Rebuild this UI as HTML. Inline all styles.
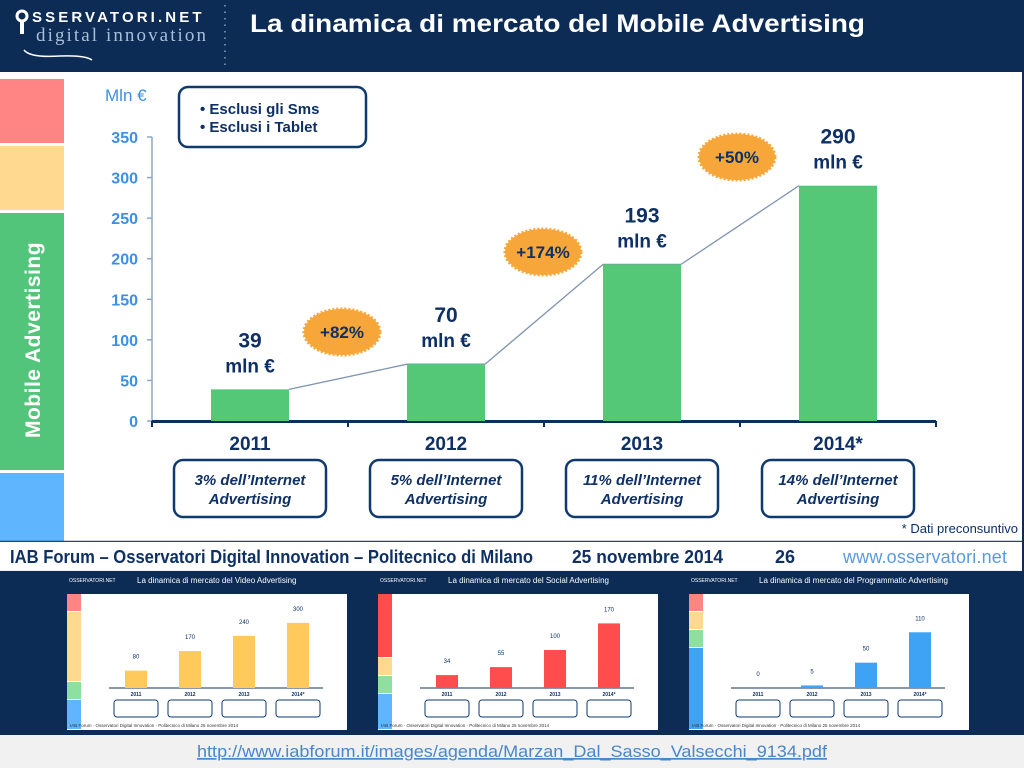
<!DOCTYPE html>
<html><head><meta charset="utf-8"><style>
html,body{margin:0;padding:0;width:1024px;height:768px;overflow:hidden;background:#f1f1f1;font-family:"Liberation Sans",sans-serif}
#wrap{position:relative;width:1024px;height:768px}
</style></head><body><div id="wrap">
<svg id="svg" width="1024" height="768" viewBox="0 0 1024 768" xmlns="http://www.w3.org/2000/svg">
<!-- header -->
<rect x="0" y="0" width="1024" height="72" fill="#0c2b55"/>
<g>
<circle cx="22" cy="16" r="5" fill="none" stroke="#fff" stroke-width="3"/>
<rect x="20" y="22" width="4" height="12" fill="#fff"/>
<text x="32" y="22" fill="#fff" font-size="15" font-weight="bold" letter-spacing="2.5" textLength="172" font-family="Liberation Sans,sans-serif">SSERVATORI.NET</text>
<text x="36" y="41" fill="#a9bfd8" font-size="19" font-family="Liberation Serif,serif" textLength="170">digital innovation</text>
<path d="M24 50 Q30 58 60 56 Q85 55 92 60" stroke="#fff" stroke-width="1.5" fill="none"/>
</g>
<line x1="225" y1="5" x2="225" y2="65" stroke="#8aa2c0" stroke-width="1.5" stroke-dasharray="1.5,5"/>
<text x="250" y="32" fill="#fff" font-size="25" font-weight="bold" textLength="615" lengthAdjust="spacingAndGlyphs">La dinamica di mercato del Mobile Advertising</text>
<!-- body -->
<rect x="0" y="72" width="1022" height="469" fill="#fff"/>
<rect x="0" y="79" width="64" height="64" fill="#ff8585"/>
<rect x="0" y="146" width="64" height="64" fill="#ffd98f"/>
<rect x="0" y="213" width="64" height="257" fill="#52c57a"/>
<rect x="0" y="473" width="64" height="68" fill="#60b5ff"/>
<text transform="translate(40,340) rotate(-90)" text-anchor="middle" fill="#fff" font-size="21" font-weight="bold" letter-spacing="0.5">Mobile Advertising</text>
<text x="105" y="101" fill="#3d8ee6" font-size="17">Mln €</text>
<g>
<rect x="179" y="87" width="187" height="60" rx="9" fill="#fff" stroke="#0e3a6e" stroke-width="2.5"/>
<text x="200" y="114" fill="#0e3064" font-size="15" font-weight="bold">•   Esclusi gli Sms</text>
<text x="200" y="132" fill="#0e3064" font-size="15" font-weight="bold">•   Esclusi i Tablet</text>
</g>
<g id="chart"></g>
<text x="1018" y="533" text-anchor="end" fill="#0e3064" font-size="13">* Dati preconsuntivo</text>
<line x1="0" y1="541.5" x2="1022" y2="541.5" stroke="#1b4a80" stroke-width="1.5"/>
<rect x="1022" y="72" width="2" height="500" fill="#0c2b55"/>
<rect x="0" y="542" width="1022" height="28" fill="#fff"/>
<g font-size="18" font-weight="bold" fill="#0e3064">
<text x="10" y="563" textLength="523" lengthAdjust="spacingAndGlyphs">IAB Forum – Osservatori Digital Innovation – Politecnico di Milano</text>
<text x="572" y="563" textLength="151" lengthAdjust="spacingAndGlyphs">25 novembre 2014</text>
<text x="775" y="563">26</text>
<text x="843" y="563" fill="#5a9ade" font-weight="normal" textLength="164">www.osservatori.net</text>
</g>
<rect x="0" y="571" width="1024" height="164" fill="#0c2b55"/>
<g id="thumbs"></g>
<text x="197" y="757" fill="#4a86c8" font-size="17" text-decoration="underline" textLength="630" lengthAdjust="spacingAndGlyphs">http://www.iabforum.it/images/agenda/Marzan_Dal_Sasso_Valsecchi_9134.pdf</text>
</svg>
</div>
<script>
const categories = ["2011","2012","2013","2014*"];
const values = [39,70,193,290];
const growthLabels = ["+82%","+174%","+50%"];
const shareLabels = ["3% dell\u2019Internet","5% dell\u2019Internet","11% dell\u2019Internet","14% dell\u2019Internet"];
const yTicks = [0,50,100,150,200,250,300,350];

const NS="http://www.w3.org/2000/svg";
function mk(tag,attrs,parent,txt){const e=document.createElementNS(NS,tag);for(const k in attrs)e.setAttribute(k,attrs[k]);if(txt!==undefined)e.textContent=txt;parent.appendChild(e);return e;}
const g=document.getElementById('chart');
const x0=152,bandW=196,y0=421,yTop=137,yMax=350,barW=78;
const yS=v=>y0-(v/yMax)*(y0-yTop);
const xC=i=>x0+bandW*i+bandW/2;
mk('line',{x1:x0,y1:yTop,x2:x0,y2:y0,stroke:'#8fa6c8','stroke-width':1.5},g);
yTicks.forEach(t=>{
  mk('line',{x1:x0-5,y1:yS(t),x2:x0,y2:yS(t),stroke:'#8fa6c8','stroke-width':1.5},g);
  const tx=mk('text',{x:138,y:yS(t)+6,'text-anchor':'end',fill:'#3d8ee6','font-size':16,'font-weight':'bold'},g,t);
  
  
});
mk('line',{x1:x0,y1:y0+0.5,x2:x0+bandW*categories.length,y2:y0+0.5,stroke:'#0e2f5c','stroke-width':3},g);
for(let i=0;i<=categories.length;i++)mk('line',{x1:x0+bandW*i,y1:y0,x2:x0+bandW*i,y2:y0+6,stroke:'#0e2f5c','stroke-width':2},g);
let pts=[];
values.forEach((v,i)=>{pts.push((xC(i)-barW/2)+','+yS(v));pts.push((xC(i)+barW/2)+','+yS(v));});
pts=pts.slice(1,-1);
const pl=mk('polyline',{points:pts.join(' '),fill:'none',stroke:'#7f93b3','stroke-width':1.3},g);


values.forEach((v,i)=>{
  const r=mk('rect',{x:xC(i)-barW/2,y:yS(v),width:barW,height:y0-yS(v),fill:'#55c878'},g);
  
  
  const t1=mk('text',{x:xC(i),y:yS(v)-42,'text-anchor':'middle',fill:'#0e3064','font-size':21,'font-weight':'bold'},g,v);
  
  
  mk('text',{x:xC(i),y:yS(v)-17,'text-anchor':'middle',fill:'#0e3064','font-size':19,'font-weight':'bold'},g,'mln €');
  const c=mk('text',{x:xC(i),y:y0+29,'text-anchor':'middle',fill:'#0e3064','font-size':19,'font-weight':'bold'},g,categories[i]);
  
  
  const bx=mk('rect',{x:xC(i)-76,y:460,width:152,height:57,rx:9,fill:'#fff',stroke:'#0e3a6e','stroke-width':2.5},g);
  
  
  mk('text',{x:xC(i),y:485,'text-anchor':'middle',fill:'#0e3064','font-size':15,'font-weight':'bold','font-style':'italic'},g,shareLabels[i]);
  mk('text',{x:xC(i),y:504,'text-anchor':'middle',fill:'#0e3064','font-size':15,'font-weight':'bold','font-style':'italic'},g,'Advertising');
});
growthLabels.forEach((s,i)=>{
  const cy=(i==0?332:i==1?252:157);
  const xx=(i==0?342:i==1?543:737);
  const e=mk('ellipse',{cx:xx,cy:cy,rx:38,ry:23,fill:'#f7a63a',stroke:'#f7a63a','stroke-width':3,'stroke-dasharray':'2,2'},g);
  
  
  mk('text',{x:xx,y:cy+6,'text-anchor':'middle',fill:'#0e3064','font-size':17,'font-weight':'bold'},g,s);
});

const thumbTitles=["La dinamica di mercato del Video Advertising","La dinamica di mercato del Social Advertising","La dinamica di mercato del Programmatic Advertising"];
const thumbValues=[[80,170,240,300],[34,55,100,170],[0,5,50,110]];
const thumbMax=[350,200,150];
const thumbColors=["#ffc95c","#ff4d4d","#3ea3f5"];
const thumbX=[67,378,689];
const tg=document.getElementById('thumbs');
thumbTitles.forEach((tt,k)=>{
  const X=thumbX[k];
  const gg=mk('g',{},tg);
  
  
  mk('text',{x:X+2,y:582,fill:'#fff','font-size':5},gg,'OSSERVATORI.NET');
  mk('text',{x:X+70,y:583,fill:'#fff','font-size':8},gg,tt);
  mk('rect',{x:X,y:594,width:280,height:136,fill:'#fff'},gg);
  let yy=594;
  const sc2=k==0?[["#ff8585",18],["#ffd98f",70],["#8ee0a0",18],["#60b5ff",30]]:k==1?[["#ff4d4d",64],["#ffd98f",18],["#8ee0a0",18],["#60b5ff",36]]:[["#ff8585",18],["#ffd98f",18],["#8ee0a0",18],["#3ea3f5",82]];
  sc2.forEach(s=>{mk('rect',{x:X,y:yy,width:14,height:s[1]-1,fill:s[0]},gg);yy+=s[1];});
  const by=688,bt=612;
  mk('line',{x1:X+42,y1:by,x2:X+256,y2:by,stroke:'#0e2f5c','stroke-width':1},gg);
  thumbValues[k].forEach((v,i)=>{
    const cx=X+42+27+i*54,h=(v/thumbMax[k])*(by-bt);
    mk('rect',{x:cx-11,y:by-h,width:22,height:h,fill:thumbColors[k]},gg);
    mk('text',{x:cx,y:by-h-12,'text-anchor':'middle',fill:'#0e3064','font-size':6},gg,v);
    mk('text',{x:cx,y:by+8,'text-anchor':'middle',fill:'#0e3064','font-size':5,'font-weight':'bold'},gg,categories[i]);
    mk('rect',{x:cx-22,y:by+12,width:44,height:17,rx:3,fill:'#fff',stroke:'#0e3a6e','stroke-width':1},gg);
  });
  mk('text',{x:X+3,y:727,fill:'#333','font-size':4.5},gg,'IAB Forum · Osservatori Digital Innovation · Politecnico di Milano     25 novembre 2014');
});
</script>
</body></html>
